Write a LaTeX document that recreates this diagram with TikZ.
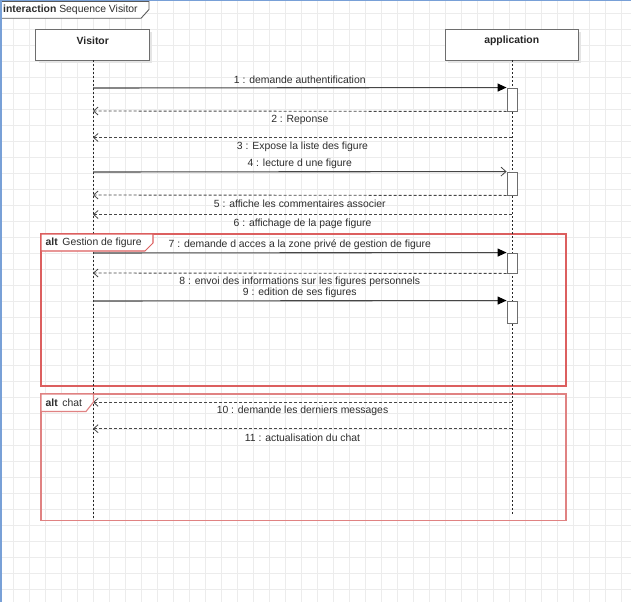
\documentclass[tikz,border=0pt]{standalone}
\usepackage{fontspec}
\setmainfont{Liberation Sans}
\usetikzlibrary{arrows.meta,shadows}
\definecolor{gridc}{RGB}{236,236,236}
\definecolor{edgeblue}{RGB}{120,160,215}
\definecolor{txt}{RGB}{45,45,45}
\definecolor{ln}{RGB}{70,70,70}
\definecolor{boxc}{RGB}{110,110,110}
\definecolor{altred}{RGB}{220,95,95}
\definecolor{altred2}{RGB}{224,130,130}
\tikzset{
  gridline/.style={draw=gridc, line width=0.9pt},
  lbl/.style={font=\fontsize{10.4}{12}\selectfont, text=txt, inner sep=0pt},
  boldlbl/.style={font=\fontsize{10.4}{12}\selectfont\bfseries, text=black!85, inner sep=0pt},
  actorbox/.style={draw=boxc, fill=white, line width=0.9pt, minimum height=31pt, inner sep=0pt,
    drop shadow={shadow xshift=3pt, shadow yshift=-3pt, fill=black!10, opacity=1}},
  actbox/.style={draw=boxc, fill=white, line width=0.9pt, minimum width=10pt, inner sep=0pt,
    drop shadow={shadow xshift=1.2pt, shadow yshift=-0.8pt, fill=black!25, opacity=1}},
  lifeline/.style={draw=black!85, line width=0.8pt, dash pattern=on 2pt off 2pt},
  callmsg/.style={draw=ln, line width=1.1pt, -{Triangle[length=9pt,width=8pt,color=black]}},
  opencall/.style={draw=ln, line width=1.1pt, -{Straight Barb[length=5pt,width=9pt,line width=0.8pt]}},
  retmsg/.style={draw=black!72, line width=0.9pt, dash pattern=on 3pt off 2pt, -{Straight Barb[length=4.5pt,width=8pt,line width=0.8pt]}},
  above lbl/.style={lbl, midway, yshift=8.3pt},
  below lbl/.style={lbl, midway, yshift=-9pt},
  altframe/.style={draw=altred, line width=1.05pt},
  altframeb/.style={draw=altred2, line width=1.1pt},
  framegray/.style={draw=black!65, line width=0.9pt}
}
\begin{document}
\begin{tikzpicture}[x=1pt,y=-1pt]
\useasboundingbox (0,0) rectangle (631,602);
\fill[white] (0,0) rectangle (631,602);
% grid
\foreach \gx in {13,29,...,621} \draw[gridline] (\gx,0) -- (\gx,602);
\foreach \gy in {13,29,...,589} \draw[gridline] (0,\gy) -- (631,\gy);
% blue edges
\fill[edgeblue] (0,0) rectangle (2,602);
\fill[edgeblue] (0,0) rectangle (631,1.5);
% interaction label
\draw[framegray, fill=white] (2,1.5) -- (149,1.5) -- (149,9.5) -- (141,18.3) -- (2,18.3);
\node[lbl, anchor=west] (ilbl) at (3,10.2) {\textbf{interaction} Sequence Visitor};

% alt frames
\draw[altframe] (41,234) rectangle (566,386);
\draw[altframeb] (41,394) rectangle (566,520.5);

% lifeline ends
\coordinate (vend) at (93,520);
\coordinate (aend) at (512,515);

% actors
\node[actorbox, minimum width=113.6pt] (visitor) at (92.5,44.5) {};
\node[boldlbl] (visitorlbl) at (92.8,40.5) {Visitor};
\node[actorbox, minimum width=133.3pt] (app) at (511.7,44.5) {};
\node[boldlbl] (applbl) at (511.7,40.5) {application};

\draw[lifeline] (visitor.south -| vend) -- (vend);
\draw[lifeline] (app.south -| aend) -- (aend);

% activations
\node[actbox, minimum height=23pt] (act1) at (512,99.5) {};
\node[actbox, minimum height=23pt] (act2) at (512,183.5) {};
\node[actbox, minimum height=20pt] (act3) at (512,263) {};
\node[actbox, minimum height=22pt] (act4) at (512,312) {};

% coordinates on lifelines
\coordinate (v1) at (93,88);
\coordinate (v2) at (93,111);
\coordinate (a3) at (512,137.5);
\coordinate (v3) at (93,137.5);
\coordinate (v4) at (93,172);
\coordinate (v5) at (93,195);
\coordinate (a6) at (512,214.5);
\coordinate (v6) at (93,214.5);
\coordinate (v7) at (93,253);
\coordinate (v8) at (93,273);
\coordinate (v9) at (93,301);
\coordinate (a10) at (512,402.3);
\coordinate (v10) at (93,402.3);
\coordinate (a11) at (512,428.7);
\coordinate (v11) at (93,428.7);

% messages
\draw[callmsg] (v1) -- (act1.north west) node[above lbl] {1 : demande authentification};
\draw[retmsg] (act1.south west) -- (v2) node[below lbl] {2 : Reponse};
\draw[retmsg] (a3) -- (v3) node[below lbl] {3 : Expose la liste des figure};
\draw[opencall] (v4) -- (act2.north west) node[above lbl] {4 : lecture d une figure};
\draw[retmsg] (act2.south west) -- (v5) node[below lbl] {5 : affiche les commentaires associer};
\draw[retmsg] (a6) -- (v6) node[below lbl] {6 : affichage de la page figure};
\draw[callmsg] (v7) -- (act3.north west) node[above lbl] {7 : demande d acces a la zone privé de gestion de figure};
\draw[retmsg] (act3.south west) -- (v8) node[below lbl] {8 : envoi des informations sur les figures personnels};
\draw[callmsg] (v9) -- (act4.north west) node[above lbl] {9 : edition de ses figures};
\draw[retmsg] (a10) -- (v10) node[below lbl] {10 : demande les derniers messages};
\draw[retmsg] (a11) -- (v11) node[below lbl] {11 : actualisation du chat};

% alt labels
\draw[altframe, fill=white] (41,234) -- (153,234) -- (153,243) -- (145,251) -- (41,251) -- cycle;
\node[lbl, anchor=west] (alt1lbl) at (45.5,243.2) {\textbf{alt}\, Gestion de figure};
\draw[altframeb, fill=white] (41,394) -- (93.5,394) -- (93.5,402) -- (86,411.5) -- (41,411.5) -- cycle;
\node[lbl, anchor=west] (alt2lbl) at (45.5,403.2) {\textbf{alt}\, chat};
\end{tikzpicture}
\end{document}
